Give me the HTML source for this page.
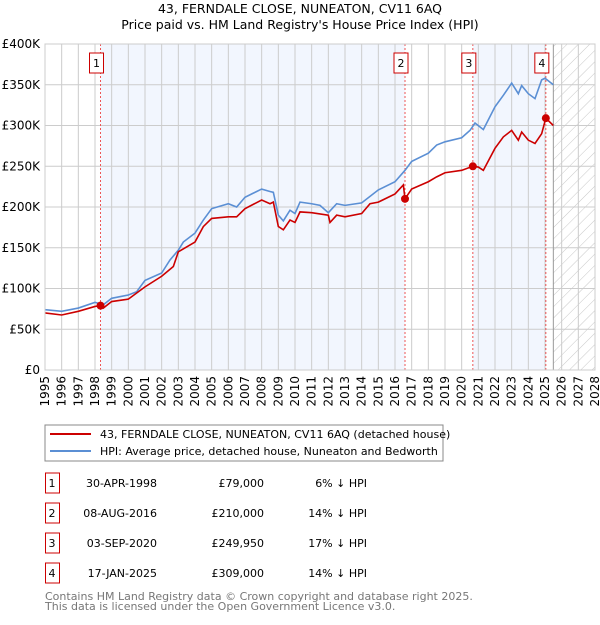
<!DOCTYPE html>
<html><head><meta charset="utf-8">
<style>
body{margin:0;background:#fff;font-family:"Liberation Sans","DejaVu Sans",sans-serif;}
svg text{font-family:"DejaVu Sans","Liberation Sans",sans-serif;}
</style></head>
<body>
<svg id="c" width="600" height="620" xmlns="http://www.w3.org/2000/svg">
<defs>
<pattern id="hatch" width="8" height="8" patternUnits="userSpaceOnUse" patternTransform="rotate(45)">
<line x1="0" y1="0" x2="0" y2="8" stroke="#c8c8c8" stroke-width="1"/>
</pattern>
</defs>
<text x="300" y="13" text-anchor="middle" font-size="12.5" fill="#000">43, FERNDALE CLOSE, NUNEATON, CV11 6AQ</text>
<text x="300" y="29" text-anchor="middle" font-size="12.5" fill="#000">Price paid vs. HM Land Registry's House Price Index (HPI)</text>
<g id="plot"></g>
<rect x="45" y="425" width="398" height="36" fill="#fff" stroke="#888"/>
<line x1="50" y1="434" x2="91" y2="434" stroke="#cc0000" stroke-width="2"/>
<text x="100" y="438" font-size="11">43, FERNDALE CLOSE, NUNEATON, CV11 6AQ (detached house)</text>
<line x1="50" y1="451" x2="91" y2="451" stroke="#5b8fd4" stroke-width="2"/>
<text x="100" y="455" font-size="11">HPI: Average price, detached house, Nuneaton and Bedworth</text>
<g id="tbl"></g>
<text x="45" y="600" font-size="11" fill="#777">Contains HM Land Registry data © Crown copyright and database right 2025.</text>
<text x="45" y="610" font-size="11" fill="#777">This data is licensed under the Open Government Licence v3.0.</text>
</svg>
<script>
const hpiYears=[1995,1996,1997,1998,1998.5,1999,2000,2000.5,2001,2002,2002.5,2003,2003.3,2004,2004.5,2005,2006,2006.5,2007,2007.5,2008,2008.5,2008.7,2009,2009.3,2009.7,2010,2010.3,2011,2011.5,2012,2012.5,2013,2014,2015,2016,2016.6,2017,2018,2018.5,2019,2020,2020.5,2020.8,2021.3,2022,2022.5,2023,2023.4,2023.6,2024,2024.4,2024.8,2025,2025.5];
const hpiValues=[74,72,76,83,80,88,92,96,110,119,135,147,157,168,184,198,204,200,212,217,222,219,218,190,183,196,192,206,204,202,193,204,202,205,221,231,245,256,266,276,280,285,294,303,295,323,337,352,339,349,339,333,356,358,350];
const priceYears=[1995,1996,1997,1998,1998.33,1998.5,1999,2000,2001,2002,2002.7,2003,2004,2004.5,2005,2006,2006.5,2007,2008,2008.5,2008.7,2009,2009.3,2009.7,2010,2010.3,2011,2012,2012.1,2012.5,2013,2014,2014.5,2015,2016,2016.5,2016.6,2017,2018,2018.5,2019,2020,2020.67,2021,2021.3,2022,2022.5,2023,2023.4,2023.6,2024,2024.4,2024.8,2025.05,2025.5];
const priceValues=[70,67.5,72,78,79,76,84,87,102,115,127,145,157,176,186,188,188,198,208.6,204,206,176,172,184,181,194,193,190,181,190,188,192,204,206,216,227,210,222,231,237,242,245,249.95,249,245,272,286,294,282,292,282,278,290,309,300];
const saleLabels=["1","2","3","4"];
const saleYears=[1998.33,2016.6,2020.67,2025.05];
const saleValues=[79,210,249.95,309];
const saleDates=["30-APR-1998","08-AUG-2016","03-SEP-2020","17-JAN-2025"];
const salePrices=["£79,000","£210,000","£249,950","£309,000"];
const saleDiffs=["6% ↓ HPI","14% ↓ HPI","17% ↓ HPI","14% ↓ HPI"];
const yTicks=[0,50,100,150,200,250,300,350,400];
const yTickLabels=["£0","£50K","£100K","£150K","£200K","£250K","£300K","£350K","£400K"];
const xTicks=[1995,1996,1997,1998,1999,2000,2001,2002,2003,2004,2005,2006,2007,2008,2009,2010,2011,2012,2013,2014,2015,2016,2017,2018,2019,2020,2021,2022,2023,2024,2025,2026,2027,2028];
const futureStart=2025.5;

const NS="http://www.w3.org/2000/svg";
const X0=45,X1=595,Y0=370,Y1=44;
const xs=y=>X0+(y-1995)/(2028-1995)*(X1-X0);
const ys=v=>Y0-v/400*(Y0-Y1);
function mk(tag,attrs,parent){const e=document.createElementNS(NS,tag);for(const k in attrs)e.setAttribute(k,attrs[k]);parent.appendChild(e);return e;}
const g=document.getElementById('plot');
// shaded regions
for(let i=0;i<saleYears.length;i+=2){
  const a=saleYears[i],b=i+1<saleYears.length?saleYears[i+1]:futureStart;
  const r=mk('rect',{x:xs(a),y:Y1,width:xs(b)-xs(a),height:Y0-Y1,fill:'#f2f6fe'},g);
  
  
}
const hb=mk('rect',{x:xs(futureStart),y:Y1,width:X1-xs(futureStart),height:Y0-Y1,fill:'url(#hatch)'},g);


// grid
yTicks.forEach((v,i)=>{
  const l=mk('line',{x1:X0,x2:X1,y1:ys(v),y2:ys(v),stroke:'#cccccc','stroke-width':1},g);
  
  
  const t=mk('text',{x:40,y:ys(v)+4,'text-anchor':'end','font-size':12},g);
  t.textContent=yTickLabels[i];
  
  
});
xTicks.forEach(yr=>{
  const l=mk('line',{x1:xs(yr),x2:xs(yr),y1:Y1,y2:Y0,stroke:'#cccccc','stroke-width':1},g);
  
  
  const t=mk('text',{x:0,y:0,'text-anchor':'end','font-size':12,transform:`translate(${xs(yr)+4},${Y0+6}) rotate(-90)`},g);
  t.textContent=yr;
  
  
});
const fl=mk('line',{x1:xs(futureStart),x2:xs(futureStart),y1:Y1,y2:Y0,stroke:'#999','stroke-width':1},g);


// sale vlines and boxes
saleYears.forEach((yr,i)=>{
  const l=mk('line',{x1:xs(yr),x2:xs(yr),y1:Y1,y2:Y0,stroke:'#ee5555','stroke-width':1,'stroke-dasharray':'2,2'},g);
  
  
  const r=mk('rect',{x:xs(yr)-11,y:53,width:14,height:20,fill:'#fff',stroke:'#cc0000'},g);
  
  
  const t=mk('text',{x:xs(yr)-4,y:67,'text-anchor':'middle','font-size':11},g);
  t.textContent=saleLabels[i];
  
  
});
const hp=mk('polyline',{points:hpiYears.map((y,i)=>xs(y)+','+ys(hpiValues[i])).join(' '),fill:'none',stroke:'#5b8fd4','stroke-width':1.6},g);


const pp=mk('polyline',{points:priceYears.map((y,i)=>xs(y)+','+ys(priceValues[i])).join(' '),fill:'none',stroke:'#cc0000','stroke-width':1.6},g);


saleYears.forEach((yr,i)=>{
  const c=mk('circle',{cx:xs(yr),cy:ys(saleValues[i]),r:4,fill:'#cc0000'},g);
  
  
});
const fr=mk('rect',{x:X0,y:Y1,width:X1-X0,height:Y0-Y1,fill:'none',stroke:'#cccccc'},g);


// table
const tb=document.getElementById('tbl');
saleLabels.forEach((lab,i)=>{
  const cy=483+i*30;
  const r=mk('rect',{x:45.5,y:cy-10,width:14,height:20,fill:'#fff',stroke:'#cc0000'},tb);
  
  
  const cells=[[52,'middle',lab,'table-row-number'],[157,'end',saleDates[i],'table-row-date'],[264,'end',salePrices[i],'table-row-price'],[367,'end',saleDiffs[i],'table-row-hpi-diff']];
  cells.forEach(c=>{
    const t=mk('text',{x:c[0],y:cy+4,'text-anchor':c[1],'font-size':11},tb);
    t.textContent=c[2];
    
    
  });
});
</script>
</body></html>
